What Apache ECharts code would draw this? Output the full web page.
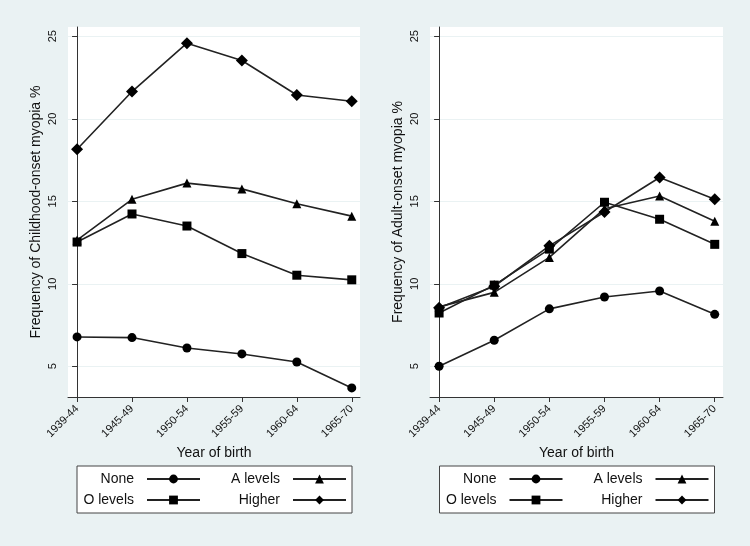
<!DOCTYPE html>
<html>
<head>
<meta charset="utf-8">
<script src="https://cdn.jsdelivr.net/npm/echarts@6/dist/echarts.min.js"></script>
<style>
  html, body { margin: 0; padding: 0; background: #eaf2f3; }
  #main { width: 750px; height: 546px; }
</style>
</head>
<body>
<div id="main"></div>
<script>
var categories = ['1939-44', '1945-49', '1950-54', '1955-59', '1960-64', '1965-70'];
var yTicks = [5, 10, 15, 20, 25];

// childhood-onset myopia, % by education
var childNone   = [6.78, 6.74, 6.11, 5.75, 5.26, 3.69];
var childO      = [12.53, 14.23, 13.5, 11.83, 10.52, 10.24];
var childA      = [12.65, 15.12, 16.1, 15.75, 14.85, 14.1];
var childHigher = [18.15, 21.65, 24.58, 23.53, 21.44, 21.06];

// adult-onset myopia, % by education
var adultNone   = [5.0, 6.58, 8.48, 9.2, 9.56, 8.15];
var adultO      = [8.23, 9.92, 12.1, 14.94, 13.91, 12.39];
var adultA      = [8.6, 9.48, 11.6, 14.55, 15.32, 13.79];
var adultHigher = [8.55, 9.85, 12.3, 14.35, 16.44, 15.12];

var names = ['None', 'O levels', 'A levels', 'Higher'];
var symbols = ['circle', 'rect', 'triangle', 'diamond'];
var symSizes = [9, 9, 9, 12];

var font = 'Liberation Sans, Arial, sans-serif';
var bg = '#eaf2f3';

function pairs(arr) {
    return arr.map(function (v, i) { return [i, v]; });
}

var myChart = echarts.init(document.getElementById('main'));

function xAxisFor(gi) {
    return {
        type: 'value',
        gridIndex: gi,
        min: -0.165,
        max: 5.15,
        name: 'Year of birth',
        nameLocation: 'middle',
        nameGap: 47,
        nameTextStyle: {color: '#111', fontSize: 14, fontFamily: font},
        axisLine: {show: true, lineStyle: {color: '#333', width: 1}},
        axisTick: {show: true, length: 5, customValues: [0, 1, 2, 3, 4, 5], lineStyle: {color: '#333'}},
        axisLabel: {
            customValues: [0, 1, 2, 3, 4, 5],
            rotate: 45,
            margin: 10,
            color: '#111',
            fontSize: 11,
            fontFamily: font,
            formatter: function (v) { return categories[Math.round(v)]; }
        },
        splitLine: {show: false}
    };
}

function yAxisFor(gi, title) {
    return {
        type: 'value',
        gridIndex: gi,
        min: 3.14,
        max: 25.56,
        name: title,
        nameLocation: 'middle',
        nameGap: 25,
        nameTextStyle: {color: '#111', fontSize: 14, fontFamily: font},
        axisLine: {show: true, lineStyle: {color: '#333', width: 1}},
        axisTick: {show: true, length: 5, customValues: yTicks, lineStyle: {color: '#333'}},
        axisLabel: {
            customValues: yTicks,
            rotate: 90,
            margin: 10,
            color: '#111',
            fontSize: 11,
            fontFamily: font
        },
        splitLine: {show: true, lineStyle: {color: bg, width: 1}}
    };
}

function makeSeries(gi, arrs) {
    return arrs.map(function (arr, k) {
        return {
            name: names[k],
            type: 'line',
            xAxisIndex: gi,
            yAxisIndex: gi,
            symbol: symbols[k],
            symbolSize: symSizes[k],
            showAllSymbol: true,
            lineStyle: {color: '#222', width: 1.6},
            itemStyle: {color: '#000'},
            data: pairs(arr)
        };
    });
}

function legendPair(offset) {
    var txt = {
        color: '#111', fontSize: 14, fontFamily: font,
        align: 'right', lineHeight: 14, overflow: 'none', padding: [0, 8, 0, 0]
    };
    return [{
        orient: 'vertical',
        left: 77 + offset,
        top: 466,
        align: 'right',
        padding: [6, 151, 6, 4],
        itemGap: 7,
        itemWidth: 53,
        itemHeight: 11,
        backgroundColor: '#fff',
        borderColor: '#444',
        borderWidth: 1,
        data: ['None', 'O levels'],
        textStyle: Object.assign({width: 53}, txt)
    }, {
        orient: 'vertical',
        left: 220 + offset,
        top: 466,
        z: 5,
        align: 'right',
        padding: [6, 0, 6, 0],
        itemGap: 7,
        itemWidth: 53,
        itemHeight: 11,
        data: ['A levels', 'Higher'],
        textStyle: Object.assign({width: 60}, txt)
    }];
}

var option = {
    animation: false,
    backgroundColor: bg,
    grid: [
        {left: 68, top: 27, width: 292, height: 370, show: true, backgroundColor: '#fff', borderWidth: 0},
        {left: 430, top: 27, width: 293, height: 370, show: true, backgroundColor: '#fff', borderWidth: 0}
    ],
    xAxis: [xAxisFor(0), xAxisFor(1)],
    yAxis: [
        yAxisFor(0, 'Frequency of Childhood-onset myopia %'),
        yAxisFor(1, 'Frequency of Adult-onset myopia %')
    ],
    legend: legendPair(0).concat(legendPair(362.5)),
    series: makeSeries(0, [childNone, childO, childA, childHigher])
        .concat(makeSeries(1, [adultNone, adultO, adultA, adultHigher]))
};

myChart.setOption(option);
</script>
</body>
</html>
